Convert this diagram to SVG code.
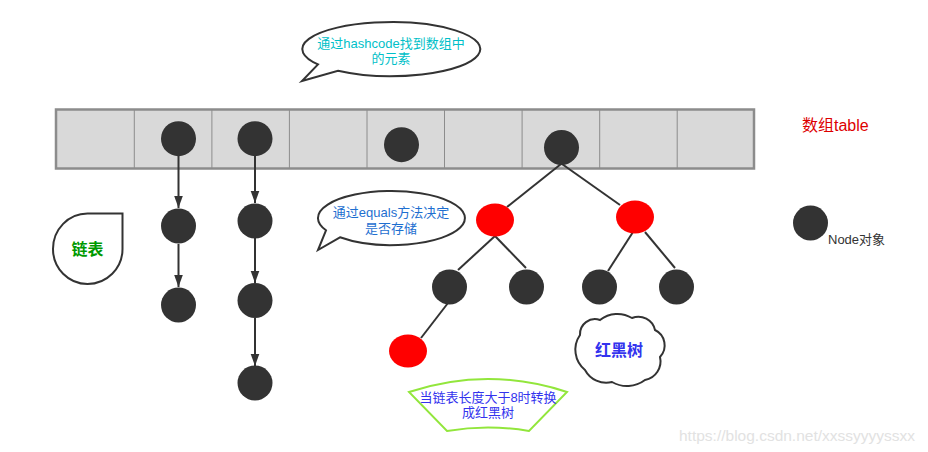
<svg xmlns="http://www.w3.org/2000/svg" width="928" height="452" viewBox="0 0 928 452">
<style>
text{font-family:"Liberation Sans","Noto Sans CJK SC",sans-serif}
.nd{fill:#333333}
.rd{fill:#ff0000}
.cell{fill:none;stroke:#8c8c8c;stroke-width:1}
.edge{stroke:#333333;stroke-width:2;fill:none}
.shape{fill:#ffffff;stroke:#333333;stroke-width:2}
</style>
<defs>
<marker id="arr" markerUnits="userSpaceOnUse" markerWidth="12" markerHeight="16" refX="14" refY="5" orient="auto" viewBox="0 0 14 10">
<path d="M0,0 L14,5 L0,10 Z" fill="#333333"/>
</marker>
</defs>
<rect width="928" height="452" fill="#ffffff"/>

<g id="table">
<rect x="56" y="109.5" width="698" height="59" fill="#d9d9d9" stroke="#8c8c8c" stroke-width="2.5"/>
<path class="cell" d="M134.3,109.5V168.5M211.9,109.5V168.5M289.4,109.5V168.5M367,109.5V168.5M444.5,109.5V168.5M522.1,109.5V168.5M599.7,109.5V168.5M677.2,109.5V168.5"/>
</g>

<g id="connectors">
<line class="edge" x1="178.5" y1="156" x2="178.5" y2="208" marker-end="url(#arr)"/>
<line class="edge" x1="178.5" y1="244" x2="178.5" y2="287" marker-end="url(#arr)"/>
<line class="edge" x1="255" y1="156" x2="255" y2="203" marker-end="url(#arr)"/>
<line class="edge" x1="255" y1="238" x2="255" y2="283" marker-end="url(#arr)"/>
<line class="edge" x1="255" y1="318" x2="255" y2="366" marker-end="url(#arr)"/>
<line class="edge" x1="561" y1="164" x2="507" y2="207"/>
<line class="edge" x1="562" y1="164" x2="620" y2="205"/>
<line class="edge" x1="495" y1="236" x2="458" y2="270"/>
<line class="edge" x1="495" y1="236" x2="526" y2="268"/>
<line class="edge" x1="633" y1="232" x2="608" y2="271"/>
<line class="edge" x1="645" y1="232" x2="675" y2="268"/>
<line class="edge" x1="448" y1="303" x2="421" y2="338"/>
</g>

<g id="n-t1"><circle class="nd" cx="178.5" cy="138.7" r="17.5"/></g>
<g id="n-t2"><circle class="nd" cx="255" cy="138.7" r="17.5"/></g>
<g id="n-t3"><circle class="nd" cx="401.5" cy="144.7" r="17.5"/></g>
<g id="n-root"><circle class="nd" cx="561.5" cy="147.5" r="17.5"/></g>
<g id="n-l1a"><circle class="nd" cx="178.5" cy="226" r="17.5"/></g>
<g id="n-l1b"><circle class="nd" cx="178.5" cy="305" r="17.5"/></g>
<g id="n-l2a"><circle class="nd" cx="255" cy="221" r="17.5"/></g>
<g id="n-l2b"><circle class="nd" cx="255" cy="300.5" r="17.5"/></g>
<g id="n-l2c"><circle class="nd" cx="255" cy="383" r="17.5"/></g>
<g id="n-redL"><ellipse class="rd" cx="495" cy="220" rx="19" ry="16.5"/></g>
<g id="n-redR"><ellipse class="rd" cx="635" cy="217" rx="19" ry="16.5"/></g>
<g id="n-redB"><ellipse class="rd" cx="408" cy="351" rx="19" ry="16.5"/></g>
<g id="n-b1"><circle class="nd" cx="449.5" cy="287" r="17.5"/></g>
<g id="n-b2"><circle class="nd" cx="526.5" cy="287" r="17.5"/></g>
<g id="n-b3"><circle class="nd" cx="599.5" cy="287" r="17.5"/></g>
<g id="n-b4"><circle class="nd" cx="676.5" cy="287" r="17.5"/></g>

<g id="bubble-hash">
<path class="shape" d="M338,70.7 A89 27 0 1 0 318,64.4 L302,81 Z"/>
<text x="391" y="48" font-size="13" fill="#00bfc8" text-anchor="middle">通过hashcode找到数组中</text>
<text x="391" y="63" font-size="13" fill="#00bfc8" text-anchor="middle">的元素</text>
</g>

<g id="bubble-equals">
<path class="shape" d="M340,237.3 A73.5 27 0 1 0 326,230.3 L318,250 Z"/>
<text x="391" y="217" font-size="13" fill="#1e6fd0" text-anchor="middle">通过equals方法决定</text>
<text x="391" y="233" font-size="13" fill="#1e6fd0" text-anchor="middle">是否存储</text>
</g>

<g id="label-list">
<path class="shape" d="M122.5,213.5 L122.5,249 A35 35 0 0 1 87.5,284 A34.5 35 0 0 1 53,249 A34.5 35.5 0 0 1 87.5,213.5 Z"/>
<text x="87.5" y="255" font-size="16" font-weight="bold" fill="#009900" text-anchor="middle">链表</text>
</g>

<g id="label-rbtree">
<path class="shape" d="M580,335 A15 15 0 0 1 600,320 A28 28 0 0 1 632,318 A17 17 0 0 1 655,330 A17 17 0 0 1 660,357 A19 19 0 0 1 645,380 A30 30 0 0 1 612,382 A24 24 0 0 1 585,370 A26 26 0 0 1 580,335 Z"/>
<text x="619" y="356" font-size="16" font-weight="bold" fill="#3333ee" text-anchor="middle">红黑树</text>
</g>

<g id="label-convert">
<path d="M409,392 Q488,366 567,392 L529,431 Q488,424 447,431 Z" fill="#ffffff" stroke="#92e63c" stroke-width="2"/>
<text x="488" y="402" font-size="13" fill="#3333ee" text-anchor="middle">当链表长度大于8时转换</text>
<text x="488" y="417" font-size="13" fill="#3333ee" text-anchor="middle">成红黑树</text>
</g>

<g id="legend-table">
<text x="802" y="131" font-size="16" fill="#dd0000">数组table</text>
</g>

<g id="legend-node">
<circle class="nd" cx="810.5" cy="223" r="17.5"/>
<text x="828" y="244" font-size="13" fill="#333333">Node对象</text>
</g>

<text x="679" y="441" font-size="15.5" fill="#e2e2e2">https://blog.csdn.net/xxssyyyyssxx</text>
</svg>
